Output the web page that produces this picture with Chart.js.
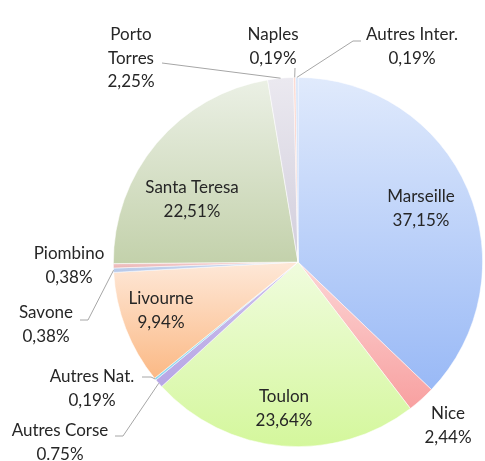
<!DOCTYPE html>
<html><head><meta charset="utf-8">
<script src="https://cdn.jsdelivr.net/npm/chart.js@4/dist/chart.umd.min.js"></script>
<style>html,body{margin:0;padding:0;background:#fff}#wrap{width:485px;height:461px;position:relative}</style>
</head><body><div id="wrap"><canvas id="c" width="485" height="461"></canvas></div>
<script>
const categories = ['Marseille','Nice','Toulon','Autres Corse','Autres Nat.','Livourne','Savone','Piombino','Santa Teresa','Porto Torres','Naples','Autres Inter.'];
const values = [37.15,2.44,23.64,0.75,0.19,9.94,0.38,0.38,22.51,2.25,0.19,0.19];
const valueLabels = ['37,15%','2,44%','23,64%','0.75%','0,19%','9,94%','0,38%','0,38%','22,51%','2,25%','0,19%','0,19%'];
const topColors = ['#e0eafc','#fcd6d6','#f0fcde','#cdc2ec','#c2ebf6','#fee8d8','#cdd9ef','#f3cfcf','#ebf0e5','#ebe9f0','#fcd8d0','#d3e2f8'];
const bottomColors = ['#99b9f6','#f8a0a0','#d4f79c','#b7a6e5','#8cd6ee','#fbb985','#b4c6e8','#eab2b2','#c3d1ab','#d2cedc','#f9b8ab','#b8cff3'];

// label layout: text line-1 centre, and leader path (null = inside label)
const labelLayout = [
  {x:421,y:197,lines:['Marseille']},
  {x:448,y:414,lines:['Nice']},
  {x:284,y:397,lines:['Toulon']},
  {x:60,y:431,lines:['Autres Corse'],leader:[[115,436],[123,436]]},
  {x:92,y:377,lines:['Autres Nat.'],leader:[[142,377],[151,377]]},
  {x:161,y:299,lines:['Livourne']},
  {x:46,y:313,lines:['Savone'],leader:[[80,320],[88,320]]},
  {x:69,y:254,lines:['Piombino']},
  {x:192,y:188,lines:['Santa Teresa']},
  {x:131,y:35,lines:['Porto','Torres'],leader:[[162,63]]},
  {x:273,y:35,lines:['Naples'],leader:[[295,68]]},
  {x:412,y:35,lines:['Autres Inter.'],leader:[[361,41],[353,41]]}
];

function sliceGradient(ctx){
  const chart = ctx.chart; const ca = chart.chartArea; const i = ctx.dataIndex;
  if(!ca) return topColors[i];
  const cx=(ca.left+ca.right)/2, cy=(ca.top+ca.bottom)/2, r=Math.min(ca.right-ca.left, ca.bottom-ca.top)/2;
  const total = values.reduce((a,b)=>a+b,0);
  let s=0; for(let k=0;k<i;k++) s+=values[k];
  const a0 = s/total*2*Math.PI - Math.PI/2, a1=(s+values[i])/total*2*Math.PI - Math.PI/2;
  let ymin=cy, ymax=cy;
  const pts=[a0,a1];
  [-Math.PI/2, Math.PI/2, 3*Math.PI/2].forEach(a=>{if(a>a0&&a<a1) pts.push(a);});
  pts.forEach(a=>{const y=cy+r*Math.sin(a); ymin=Math.min(ymin,y); ymax=Math.max(ymax,y);});
  if(ymax-ymin<1){ymax=ymin+1;}
  const g = chart.ctx.createLinearGradient(0,ymin,0,ymax);
  g.addColorStop(0, topColors[i]); g.addColorStop(1, bottomColors[i]);
  return g;
}

const labelPlugin = {
  id:'labels',
  afterDatasetsDraw(chart){
    const c = chart.ctx; const meta = chart.getDatasetMeta(0);
    c.save();
    c.font = '17px Lato, "Open Sans", sans-serif';
    c.fillStyle = '#262626'; c.textAlign='center'; c.textBaseline='middle';
    const lh = 23.5;
    meta.data.forEach((arc,i)=>{
      const L = labelLayout[i];
      const lines = L.lines.concat([valueLabels[i]]);
      lines.forEach((t,j)=>c.fillText(t, L.x, L.y + j*lh));
      if(L.leader){
        const mid=(arc.startAngle+arc.endAngle)/2;
        const px=arc.x+arc.outerRadius*Math.cos(mid), py=arc.y+arc.outerRadius*Math.sin(mid);
        c.strokeStyle='#a6a6a6'; c.lineWidth=1;
        c.beginPath(); c.moveTo(L.leader[0][0],L.leader[0][1]);
        for(let k=1;k<L.leader.length;k++) c.lineTo(L.leader[k][0],L.leader[k][1]);
        c.lineTo(px,py); c.stroke();
      }
    });
    c.restore();
  }
};

new Chart(document.getElementById('c'),{
  type:'pie',
  data:{labels:categories,datasets:[{data:values,backgroundColor:sliceGradient,borderColor:'rgba(255,255,255,0.7)',borderWidth:0.75}]},
  options:{responsive:false,animation:false,
    layout:{padding:{top:77,bottom:14,left:113,right:2}},
    plugins:{legend:{display:false},tooltip:{enabled:false}}},
  plugins:[labelPlugin]
});
</script></body></html>
